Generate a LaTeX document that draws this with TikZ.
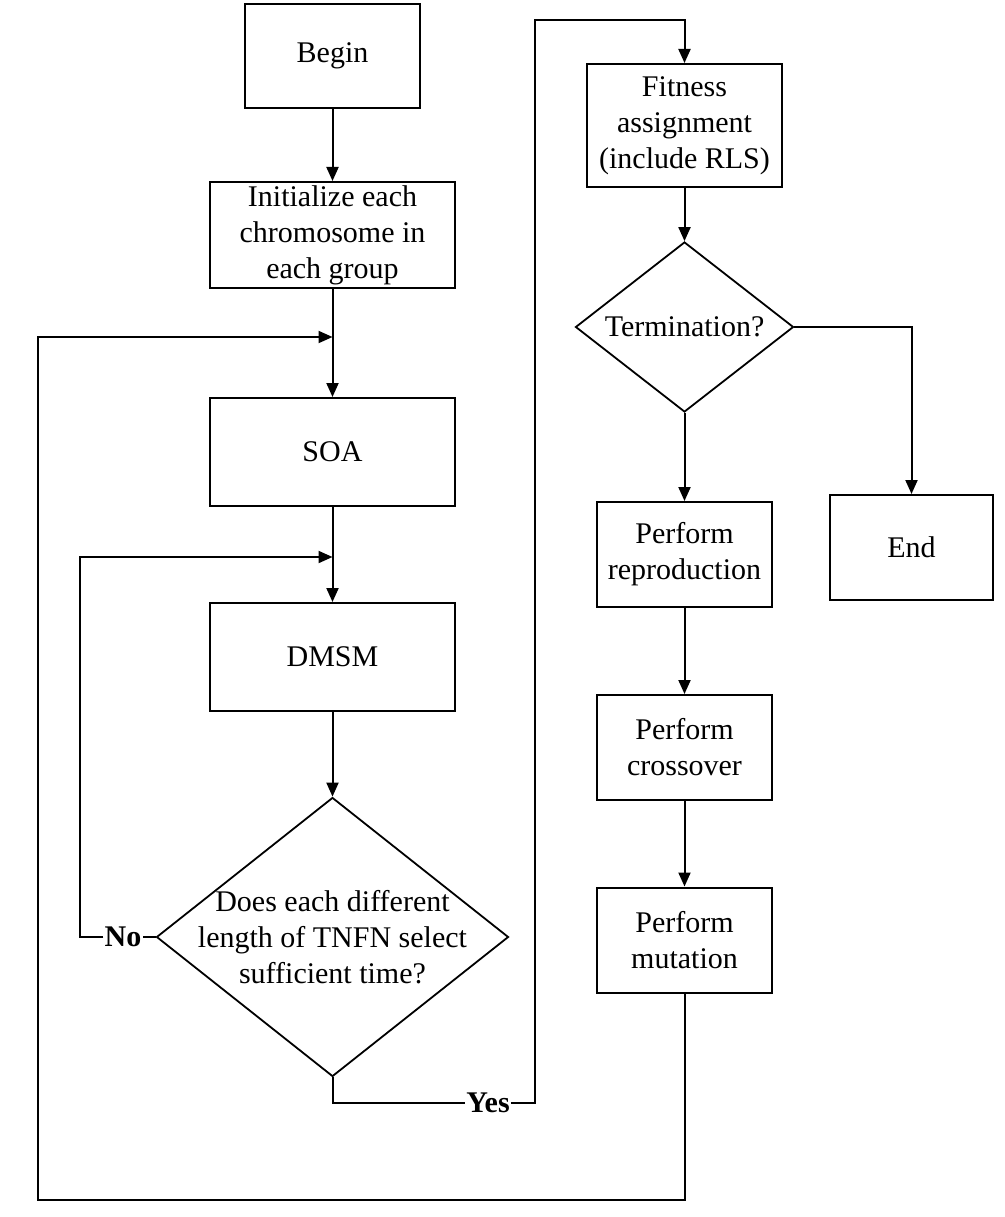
\documentclass[tikz,border=0pt]{standalone}
\usepackage{fontspec}
\setmainfont{Liberation Serif}
\usetikzlibrary{shapes.geometric,arrows.meta}
\begin{document}
\begin{tikzpicture}[x=1pt,y=-1pt,
  every node/.style={font=\fontsize{30}{36}\selectfont},
  box/.style={draw,line width=2pt,align=center,inner sep=2pt},
  dia/.style={draw,line width=1.8pt,shape=diamond,inner sep=0pt},
  lab/.style={font=\fontsize{30}{36}\selectfont\bfseries,inner sep=1pt},
  ln/.style={line width=2pt},
  arr/.style={line width=2pt,-{Triangle[length=14pt,width=12pt]}}]
\useasboundingbox[fill=white] (0,0) rectangle (1004,1217);
% left column
\node[box,minimum width=175pt,minimum height=104pt] (begin) at (332.5,56) {\raisebox{-4pt}{Begin}};
\node[box,minimum width=245pt,minimum height=106pt] (init) at (332.5,235) {Initialize each\\chromosome in\\each group};
\node[box,minimum width=245pt,minimum height=108pt] (soa) at (332.5,452) {\raisebox{-4pt}{SOA}};
\node[box,minimum width=245pt,minimum height=108pt] (dmsm) at (332.5,657) {\raisebox{-4pt}{DMSM}};
\node[dia,minimum width=352pt,minimum height=279pt] (dec) at (332.5,937) {};
\node[align=center,inner sep=0pt] (dectext) at (dec.center) {Does each different\\length of TNFN select\\sufficient time?};
\node[lab] (no) at (123,937) {No};
\node[lab] (yes) at (488,1103) {Yes};
% right column
\node[box,minimum width=195pt,minimum height=123pt] (fit) at (684.5,125.5) {Fitness\\assignment\\(include RLS)};
\node[dia,minimum width=218pt,minimum height=170pt] (term) at (684.5,327) {};
\node[inner sep=0pt] (termtext) at (term.center) {Termination?};
\node[box,minimum width=175pt,minimum height=105pt] (rep) at (684.5,554.5) {Perform\\reproduction};
\node[box,minimum width=175pt,minimum height=105pt] (cross) at (684.5,747.5) {Perform\\crossover};
\node[box,minimum width=175pt,minimum height=105pt] (mut) at (684.5,940) {Perform\\mutation};
\node[box,minimum width=163pt,minimum height=105pt] (end) at (911.5,547.5) {\raisebox{-4pt}{End}};
% junctions
\coordinate (j1) at (332.5,337);
\coordinate (j2) at (332.5,557);
\coordinate (outer) at (38,1200);
\coordinate (inner) at (80,937);
\coordinate (up) at (535,20);
% connectors
\draw[arr] (begin.south) -- (init.north);
\draw[arr] (init.south) -- (soa.north);
\draw[arr] (soa.south) -- (dmsm.north);
\draw[arr] (dmsm.south) -- (dec.north);
\draw[ln] (dec.west) -- (no.east);
\draw[arr] (no.west) -- (inner) |- (j2);
\draw[ln] (dec.south) |- (yes.west);
\draw[arr] (yes.east) -| (up) -| (fit.north);
\draw[arr] (fit.south) -- (term.north);
\draw[arr] (term.south) -- (rep.north);
\draw[arr] (term.east) -| (end.north);
\draw[arr] (rep.south) -- (cross.north);
\draw[arr] (cross.south) -- (mut.north);
\draw[arr] (mut.south) |- (outer) |- (j1);
\end{tikzpicture}
\end{document}
